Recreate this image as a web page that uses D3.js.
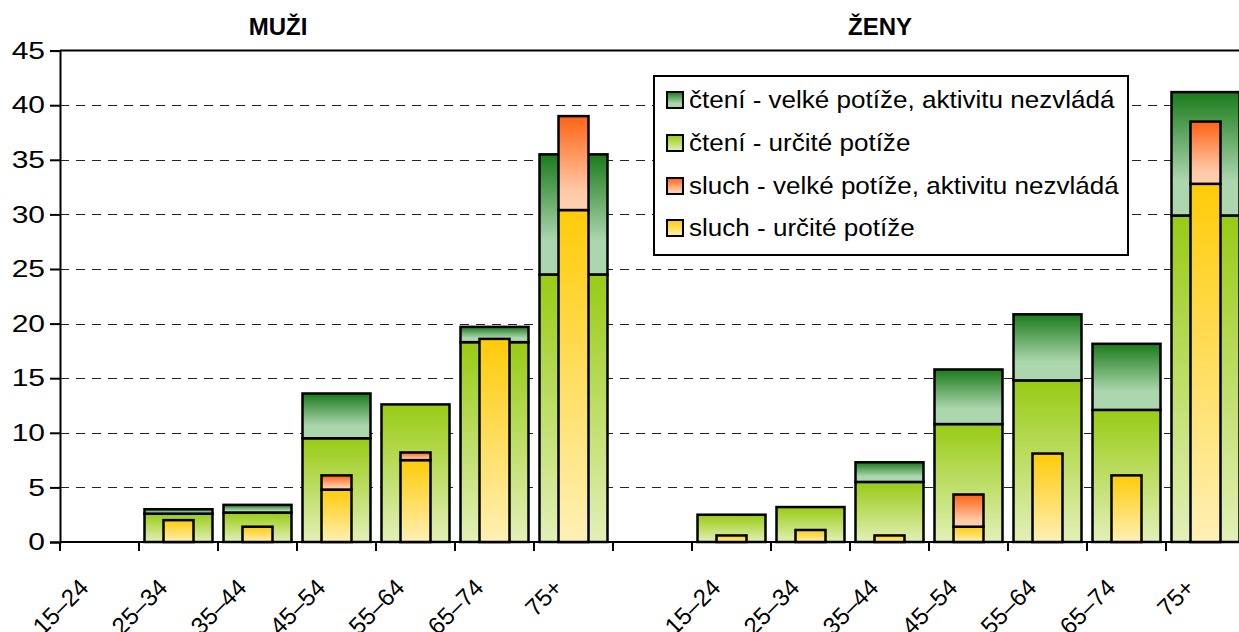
<!DOCTYPE html>
<html><head><meta charset="utf-8">
<script src="https://cdn.jsdelivr.net/npm/d3@7"></script>
<style>
html,body{margin:0;padding:0;background:#fff;}
svg{display:block;font-family:"Liberation Sans",Arial,sans-serif;}
</style></head>
<body><svg id="chart" width="1239" height="632"></svg>
<script>
// ---- data ----
const ageGroups = ["15–24","25–34","35–44","45–54","55–64","65–74","75+"];
const groupTitles = ["MUŽI","ŽENY"];
const seriesNames = ["čtení - velké potíže, aktivitu nezvládá","čtení - určité potíže","sluch - velké potíže, aktivitu nezvládá","sluch - určité potíže"];
// men
const menReadSome   = [0, 2.6, 2.7, 9.5, 12.6, 18.3, 24.5];
const menReadSevere = [0, 0.4, 0.7, 4.1, 0,    1.4,  11.0];
const menHearSome   = [0, 2.0, 1.4, 4.8, 7.5,  18.6, 30.4];
const menHearSevere = [0, 0,   0,   1.3, 0.7,  0,    8.6];
// women
const womenReadSome   = [2.5, 3.2, 5.5, 10.8, 14.8, 12.1, 29.9];
const womenReadSevere = [0,   0,   1.8, 5.0,  6.05, 6.05, 11.3];
const womenHearSome   = [0.6, 1.1, 0.6, 1.4,  8.1,  6.1,  32.8];
const womenHearSevere = [0,   0,   0,   2.95, 0,    0,    5.7];
const yTicks = [0,5,10,15,20,25,30,35,40,45];

// ---- build ----
const svg = d3.select("#chart");
const W = 1239, H = 632;
const cats = [...ageGroups.map(a=>"M|"+a), "gap", ...ageGroups.map(a=>"Z|"+a)];
const x = d3.scaleBand().domain(cats).range([60, 60 + 15*79]).padding(0);
const y = d3.scaleLinear().domain([0,45]).range([542, 50.6]);
const bw = x.bandwidth();

const defs = svg.append("defs");
const grads = {
  rs: [["0%","#1b7b1b"],["72%","#acd6ae"],["100%","#acd6ae"]],
  rw: [["0%","#98cb14"],["100%","#e3f0b8"]],
  hs: [["0%","#ff6214"],["80%","#ffcaa8"],["100%","#ffd0b2"]],
  hw: [["0%","#ffcb08"],["100%","#fff0b6"]]
};
Object.entries(grads).forEach(([id,stops])=>{
  const g = defs.append("linearGradient").attr("id","g_"+id).attr("x1",0).attr("y1",0).attr("x2",0).attr("y2",1);
  stops.forEach(s=>g.append("stop").attr("offset",s[0]).attr("stop-color",s[1]));
});

// gridlines
svg.append("g").selectAll("line").data(yTicks.filter(t=>t>0 && t<45)).join("line")
  .attr("x1",60).attr("x2",W).attr("y1",d=>Math.round(y(d))+0.5).attr("y2",d=>Math.round(y(d))+0.5)
  .attr("stroke","#222").attr("stroke-width",1).attr("stroke-dasharray","9,7");
// top border
svg.append("line").attr("x1",60).attr("x2",W).attr("y1",y(45)).attr("y2",y(45)).attr("stroke","#000").attr("stroke-width",2);

// y axis
const yAxis = svg.append("g").attr("transform","translate(60,0)")
  .call(d3.axisLeft(y).tickValues(yTicks).tickSize(10).tickPadding(5).tickFormat(d3.format("d")));
yAxis.select(".domain").attr("stroke","#000").attr("stroke-width",2);
yAxis.selectAll(".tick line").attr("stroke","#000").attr("stroke-width",2);
yAxis.selectAll(".tick text").attr("font-size",24).attr("fill","#000")
  .attr("font-family","Liberation Sans, Arial, sans-serif")
  .attr("x",-15/1.25).attr("transform","scale(1.25,1)");

// bars
const groups = [
  {pre:"M|", rs:menReadSevere, rw:menReadSome, hs:menHearSevere, hw:menHearSome},
  {pre:"Z|", rs:womenReadSevere, rw:womenReadSome, hs:womenHearSevere, hw:womenHearSome}
];
const wideW = 68, narrowW = 30;
const barG = svg.append("g");
function seg(cx, w, v0, v1, fill){
  if (v1 - v0 <= 0) return;
  barG.append("rect").attr("x",cx-w/2).attr("width",w)
    .attr("y",y(v1)).attr("height",y(v0)-y(v1))
    .attr("fill","url(#g_"+fill+")").attr("stroke","#000").attr("stroke-width",2.5);
}
groups.forEach(g=>{
  ageGroups.forEach((a,i)=>{
    const cx = x(g.pre+a) + bw/2;
    seg(cx, wideW, 0, g.rw[i], "rw");
    seg(cx, wideW, g.rw[i], g.rw[i]+g.rs[i], "rs");
  });
  ageGroups.forEach((a,i)=>{
    const cx = x(g.pre+a) + bw/2;
    seg(cx, narrowW, 0, g.hw[i], "hw");
    seg(cx, narrowW, g.hw[i], g.hw[i]+g.hs[i], "hs");
  });
});

// x axis
svg.append("line").attr("x1",60).attr("x2",W).attr("y1",542).attr("y2",542).attr("stroke","#000").attr("stroke-width",2);
const tickXs = cats.map(c=>x(c)).concat([x.range()[1]]);
svg.append("g").selectAll("line").data(tickXs).join("line")
  .attr("x1",d=>d).attr("x2",d=>d).attr("y1",542).attr("y2",551).attr("stroke","#000").attr("stroke-width",2);
svg.append("g").selectAll("text").data(cats.filter(c=>c!=="gap")).join("text")
  .attr("transform",c=>`translate(${x(c)+bw/2-9.5},589) rotate(-45)`)
  .attr("text-anchor","end").attr("font-size",24).attr("fill","#000")
  .text(c=>c.split("|")[1]);

// titles
svg.append("text").attr("x",278).attr("y",35).attr("text-anchor","middle").attr("font-size",24).attr("font-weight","bold").text(groupTitles[0]);
svg.append("text").attr("x",880).attr("y",35).attr("text-anchor","middle").attr("font-size",24).attr("font-weight","bold").text(groupTitles[1]);

// legend
const lg = svg.append("g");
lg.append("rect").attr("x",654).attr("y",76).attr("width",474).attr("height",179).attr("fill","#fff").attr("stroke","#000").attr("stroke-width",2);
const legFills = ["rs","rw","hs","hw"];
const rowY = [100,143,186,228];
seriesNames.forEach((n,i)=>{
  lg.append("rect").attr("x",667).attr("y",rowY[i]-8).attr("width",16).attr("height",16)
    .attr("fill","url(#g_"+legFills[i]+")").attr("stroke","#000").attr("stroke-width",2);
  lg.append("text").attr("transform",`translate(689,${rowY[i]}) scale(1.085,1)`).attr("dy","0.35em")
    .attr("font-size",24).attr("fill","#000").text(n);
});
</script></body></html>
